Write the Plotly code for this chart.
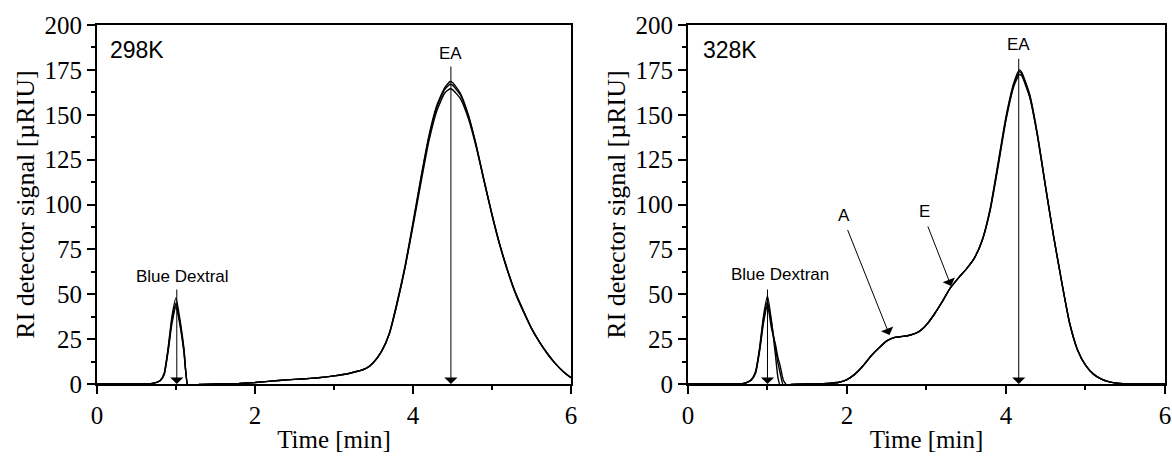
import plotly.graph_objects as go

# ---------------- data ----------------
# Left panel: 298 K, three replicate injections
time_298 = [0, 0.5, 0.7, 0.8, 0.85, 0.9, 0.95, 1.0, 1.05, 1.1, 1.15, 1.2, 1.3, 1.5, 1.8,
            2.0, 2.2, 2.4, 2.6, 2.8, 3.0, 3.2, 3.4, 3.5, 3.6, 3.7, 3.8, 3.9, 4.0, 4.1,
            4.2, 4.3, 4.4, 4.47, 4.5, 4.6, 4.7, 4.8, 4.9, 5.0, 5.1, 5.2, 5.3, 5.4, 5.5,
            5.6, 5.7, 5.8, 5.9, 6.0]
signal_298_run1 = [0, 0, 0.3, 2, 6, 20, 38, 48, 36, 20, -1, -0.8, -0.3, 0, 0.3,
                   0.8, 1.6, 2.3, 2.8, 3.5, 4.5, 6, 8.5, 12, 18, 28, 46, 66, 90, 115,
                   138, 155, 165, 168.5, 168, 162, 150, 133, 113, 94, 77, 62.5, 50, 40, 31,
                   23.5, 17, 11.5, 7, 3.5]
signal_298_run2 = [0, 0, 0.3, 1.9, 5.5, 19, 36, 45, 34, 19, -1, -0.8, -0.3, 0, 0.3,
                   0.8, 1.6, 2.3, 2.8, 3.5, 4.5, 6, 8.5, 12, 18, 28, 45, 65, 89, 114,
                   137, 154, 164, 167, 166.5, 161, 149.5, 133, 113.5, 94.5, 77.5, 63, 50.5, 40.5, 31,
                   23.5, 17, 11.5, 7, 3.5]
signal_298_run3 = [0, 0, 0.3, 1.8, 5, 18, 34, 43, 33, 18, -0.8, -0.8, -0.3, 0, 0.3,
                   0.8, 1.6, 2.3, 2.8, 3.5, 4.5, 6, 8.5, 12, 18, 28, 45, 65, 88, 112,
                   135, 152, 162, 164.5, 164, 159, 148, 132, 113, 94.5, 77.5, 63, 50.5, 40.5, 31,
                   23.5, 17, 11.5, 7, 3.5]

# Right panel: 328 K, three replicate injections
time_328 = [0, 0.5, 0.7, 0.75, 0.8, 0.85, 0.9, 0.95, 1.0, 1.05, 1.1, 1.13, 1.16, 1.2, 1.25,
            1.3, 1.5, 1.7, 1.8, 1.9, 2.0, 2.1, 2.2, 2.3, 2.4, 2.5, 2.6, 2.7, 2.8, 2.9,
            3.0, 3.1, 3.2, 3.3, 3.4, 3.5, 3.6, 3.7, 3.8, 3.9, 4.0, 4.1, 4.17, 4.2, 4.3,
            4.4, 4.5, 4.6, 4.7, 4.8, 4.9, 5.0, 5.1, 5.2, 5.3, 5.4, 5.6, 6.0]
signal_328_run1 = [0, 0, 0.3, 1, 2.5, 7, 20, 38, 49, 35, 16, 4, -1, -0.8, -0.5,
                   -0.3, 0, 0.2, 0.5, 1, 2.5, 5.5, 10, 15.5, 20, 24, 26, 26.5, 27.3, 29,
                   33, 39, 46, 53.5, 59, 64, 70, 80, 97, 122, 148, 167, 174, 172.5, 160,
                   137, 109, 82, 57, 34, 19, 10.5, 5.5, 2.7, 1.2, 0.4, 0, 0]
signal_328_run2 = [0, 0, 0.3, 1, 2.5, 6.5, 19, 36, 46, 34, 20, 12, 6, -1, -0.7,
                   -0.3, 0, 0.2, 0.5, 1, 2.5, 5.5, 10, 15.5, 20, 24, 26, 26.5, 27.3, 29,
                   33, 39, 46, 53.5, 59, 64, 70, 80, 96.5, 121, 147, 166, 172.5, 171.5, 159.5,
                   137.5, 109, 82, 57, 34, 19, 10.5, 5.5, 2.7, 1.2, 0.4, 0, 0]
signal_328_run3 = [0, 0, 0.3, 1, 2.4, 6, 18, 34, 44, 31, 22, 15, 10, 2, -1,
                   -0.3, 0, 0.2, 0.5, 1, 2.5, 5.5, 10, 15.5, 20, 24, 26, 26.5, 27.3, 29,
                   33, 39, 46, 53.5, 59, 64, 70, 80, 97.5, 123, 149, 168, 175, 173.5, 161,
                   138, 109.5, 82, 57, 34, 19, 10.5, 5.5, 2.7, 1.2, 0.4, 0, 0]

x_ticks = [0, 2, 4, 6]
y_ticks = [0, 25, 50, 75, 100, 125, 150, 175, 200]
panel_labels = ["298K", "328K"]

# ---------------- figure ----------------
fig = go.Figure()
line_style = dict(color="black", width=1.4, shape="spline", smoothing=0.5)
for ys in (signal_298_run1, signal_298_run2, signal_298_run3):
    fig.add_trace(go.Scatter(x=time_298, y=ys, mode="lines", line=line_style,
                             xaxis="x", yaxis="y", showlegend=False))
for ys in (signal_328_run1, signal_328_run2, signal_328_run3):
    fig.add_trace(go.Scatter(x=time_328, y=ys, mode="lines", line=line_style,
                             xaxis="x2", yaxis="y2", showlegend=False))

serif = "Liberation Serif, Times New Roman, serif"
sans = "Liberation Sans, Arial, sans-serif"

def xax(domain, anchor):
    return dict(domain=domain, anchor=anchor, range=[0, 6], tickvals=x_ticks,
                automargin=False,
                ticks="outside", ticklen=8, tickwidth=1.5, tickcolor="black",
                minor=dict(dtick=1, tick0=0, ticks="outside", ticklen=4, tickwidth=1.5,
                           tickcolor="black", showgrid=False),
                showline=True, linewidth=2, linecolor="black", mirror=True,
                showgrid=False, zeroline=False,
                tickfont=dict(family=serif, size=25, color="black"),
                title=dict(text="Time [min]", font=dict(family=serif, size=25, color="black"),
                           standoff=3))

def yax(anchor):
    return dict(domain=[0.16703, 0.94577], anchor=anchor, range=[0, 200], tickvals=y_ticks,
                automargin=False,
                ticks="outside", ticklen=8, tickwidth=1.5, tickcolor="black",
                minor=dict(dtick=12.5, tick0=0, ticks="outside", ticklen=4, tickwidth=1.5,
                           tickcolor="black", showgrid=False),
                showline=True, linewidth=2, linecolor="black", mirror=True,
                showgrid=False, zeroline=False,
                tickfont=dict(family=serif, size=25, color="black"),
                title=dict(text="RI detector signal [µRIU]",
                           font=dict(family=serif, size=26, color="black"), standoff=2))

fig.update_layout(
    width=1172, height=461,
    margin=dict(l=0, r=0, t=0, b=0),
    paper_bgcolor="white", plot_bgcolor="white",
    xaxis=xax([0.08276, 0.48720], "y"),
    yaxis=yax("x"),
    xaxis2=xax([0.58703, 0.99403], "y2"),
    yaxis2=yax("x2"),
)

arrow_kw = dict(showarrow=True, arrowhead=1, arrowsize=2.2, arrowwidth=1, arrowcolor="black",
                text="", standoff=0, startstandoff=0)

def label(x, y, txt, xr, yr, size=17, xanchor="center"):
    return dict(x=x, y=y, xref=xr, yref=yr, text=txt, showarrow=False, xanchor=xanchor,
                yanchor="middle", font=dict(family=sans, size=size, color="black"))

def arrow(x, y, ax, ay, xr, yr):
    return dict(x=x, y=y, ax=ax, ay=ay, xref=xr, yref=yr, axref=xr, ayref=yr, **arrow_kw)

ann = [
    label(0.14, 186, panel_labels[0], "x", "y", size=23, xanchor="left"),
    label(0.16, 186, panel_labels[1], "x2", "y2", size=23, xanchor="left"),
    # left panel
    label(1.08, 60, "Blue Dextral", "x", "y"),
    arrow(1.01, 0, 1.01, 53.5, "x", "y"),
    label(4.48, 184, "EA", "x", "y"),
    arrow(4.48, 0, 4.48, 177.7, "x", "y"),
    # right panel
    label(1.16, 61, "Blue Dextran", "x2", "y2"),
    arrow(1.0, 0, 1.0, 53.5, "x2", "y2"),
    label(4.16, 189, "EA", "x2", "y2"),
    arrow(4.16, 0, 4.16, 182, "x2", "y2"),
    label(1.96, 94, "A", "x2", "y2"),
    arrow(2.535, 27.3, 2.0, 86.7, "x2", "y2"),
    label(2.98, 96, "E", "x2", "y2"),
    arrow(3.31, 54.6, 3.01, 88.6, "x2", "y2"),
]
fig.update_layout(annotations=ann)

fig.write_html("out.html")
